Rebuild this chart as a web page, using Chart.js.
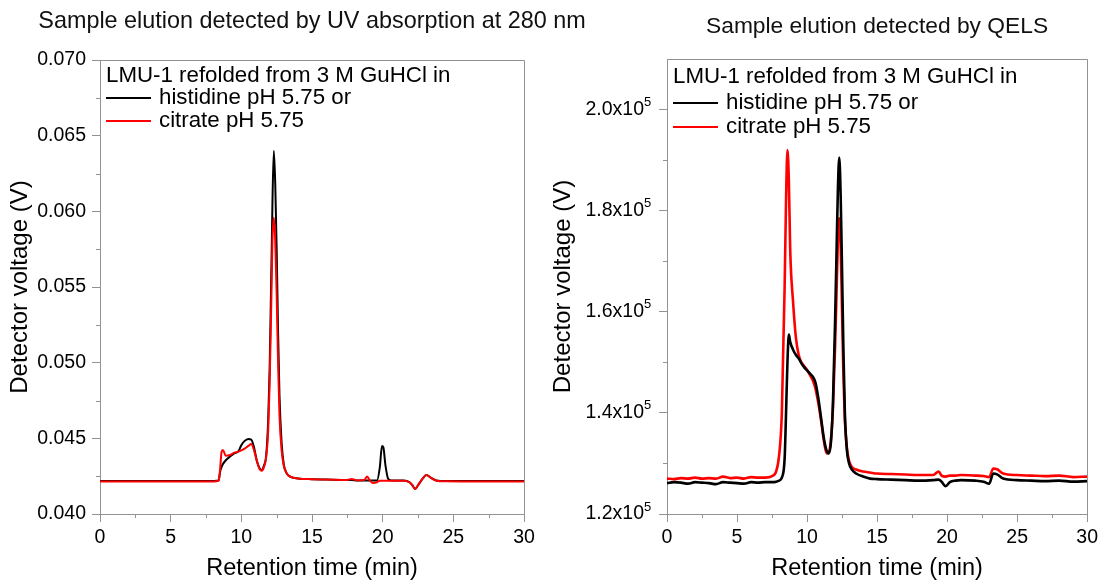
<!DOCTYPE html>
<html>
<head>
<meta charset="utf-8">
<title>Sample elution</title>
<script src="https://cdn.jsdelivr.net/npm/chart.js@4.4.1/dist/chart.umd.min.js"></script>
<style>
  body { margin: 0; background: #fff; width: 1102px; height: 583px; overflow: hidden; position: relative; }
  .box { position: absolute; top: 0; height: 583px; }
  #uvBox { left: 0; width: 620px; }
  #qelsBox { left: 540px; width: 562px; }
</style>
</head>
<body>
<div class="box" id="uvBox"><canvas id="uv"></canvas></div>
<div class="box" id="qelsBox"><canvas id="qels"></canvas></div>
<script>
// ---- data ----
const seriesLabels = ['histidine pH 5.75 or', 'citrate pH 5.75'];
const seriesColors = ['#000000', '#ff0000'];
const legendTitle = 'LMU-1 refolded from 3 M GuHCl in';

// UV 280 nm, detector voltage (V) vs retention time (min)
const uvTime = [0, 2, 4, 6, 8, 8.2, 8.4, 8.5, 8.6, 8.7, 8.9, 9.2, 9.5, 9.8, 10.0, 10.2, 10.5, 10.7, 10.9, 11.1, 11.3, 11.45,
  11.6, 11.75, 11.9, 12.0, 12.1, 12.15, 12.2, 12.3, 12.4, 12.5, 12.6, 12.7, 12.85, 13.0, 13.2, 13.5, 14, 15, 16, 17.5, 17.8,
  18.2, 18.7, 18.9, 19.1, 19.3, 19.6, 19.8, 19.95, 20.05, 20.2, 20.4, 20.6, 21, 21.5, 21.9, 22.1, 22.3, 22.5, 22.8, 23.1,
  23.4, 23.8, 24.5, 26, 28, 30];
const uvHistidine = [0.04218, 0.04218, 0.04218, 0.04218, 0.04218, 0.04219, 0.04225, 0.0428, 0.0431, 0.0433, 0.04355, 0.0438, 0.0440, 0.04415, 0.04455, 0.0448, 0.04495, 0.04492, 0.0444, 0.0435, 0.0430, 0.0429,
  0.0432, 0.0438, 0.0462, 0.0495, 0.0548, 0.0575, 0.0605, 0.0640, 0.0618, 0.0575, 0.0520, 0.0478, 0.0447, 0.0433, 0.0427, 0.04245, 0.04235, 0.0423, 0.04228, 0.04225, 0.04225,
  0.04222, 0.04222, 0.04222, 0.04222, 0.04222, 0.04222, 0.0431, 0.0445, 0.0444, 0.0432, 0.0423, 0.04222, 0.04222, 0.04222, 0.0421, 0.0419, 0.04165, 0.0419, 0.0423, 0.04258,
  0.0424, 0.04222, 0.04218, 0.04218, 0.04218, 0.04218];
const uvCitrate = [0.04215, 0.04215, 0.04215, 0.04215, 0.04215, 0.04216, 0.0422, 0.0430, 0.0441, 0.04423, 0.04385, 0.0439, 0.04405, 0.04412, 0.0442, 0.0443, 0.0445, 0.04462, 0.0442, 0.0435, 0.04295, 0.04286,
  0.0431, 0.0437, 0.0455, 0.0485, 0.0530, 0.0555, 0.0580, 0.0596, 0.0580, 0.0545, 0.0500, 0.0465, 0.0442, 0.0432, 0.0427, 0.04245, 0.04235, 0.0423, 0.04228, 0.04225, 0.04232,
  0.04222, 0.04225, 0.04248, 0.0422, 0.04205, 0.0421, 0.0422, 0.0422, 0.0422, 0.0422, 0.0422, 0.0422, 0.0422, 0.0422, 0.0421, 0.0419, 0.04165, 0.0419, 0.0423, 0.04258,
  0.0424, 0.0422, 0.04216, 0.04215, 0.04215, 0.04215];

// QELS, detector voltage (V) vs retention time (min)
const qelsTime = [0, 0.5, 1, 1.5, 2, 2.5, 3, 3.5, 4, 4.5, 5, 5.5, 6, 6.5, 7, 7.5, 7.8, 8.0, 8.2, 8.4, 8.5, 8.6, 8.7, 8.8,
  9.0, 9.2, 9.4, 9.6, 9.8, 10.0, 10.2, 10.4, 10.6, 10.8, 11.0, 11.2, 11.4, 11.55, 11.7, 11.85, 12.0, 12.1, 12.2, 12.3, 12.4,
  12.5, 12.6, 12.7, 12.85, 13.0, 13.2, 13.5, 14, 14.5, 15, 16, 17, 18, 19, 19.4, 19.6, 19.9, 20.2, 20.6, 21, 22, 22.6, 23.0,
  23.3, 23.6, 24, 25, 26, 27, 28, 29, 30];
const qelsHistidine = [126100, 126300, 126200, 126000, 126300, 126200, 126100, 125900, 126300, 126200, 126100, 126000, 126300, 126200, 126300, 126300, 126400, 126600, 127200, 131000, 140000, 150000, 155500, 154000,
  152500, 151500, 150800, 149800, 149000, 148400, 147800, 147200, 146000, 143000, 139000, 135000, 132500, 132000, 134000, 142000, 158000, 171000, 184000, 190500, 183000,
  168000, 152000, 140000, 132500, 130000, 128800, 128000, 127400, 127000, 126900, 126800, 126700, 126600, 126700, 126800, 126400, 125500, 126300, 126600, 126700, 126600, 126400, 126000,
  128000, 127800, 127000, 126700, 126600, 126500, 126600, 126400, 126500];
const qelsCitrate = [127000, 126900, 127100, 127000, 127200, 127000, 127100, 127000, 127400, 127100, 127200, 127000, 127300, 127200, 127200, 127500, 128500, 131500, 140000, 165000, 182000, 192000, 186000, 172000,
  162000, 155000, 151500, 150000, 149200, 148500, 147500, 146500, 144800, 142000, 138500, 134500, 132000, 132200, 134500, 141000, 153000, 163000, 174000, 178500, 173000,
  160000, 147000, 138500, 133000, 130500, 129300, 128800, 128400, 128200, 128000, 127900, 127800, 127700, 127700, 128400, 127600, 127400, 127600, 127600, 127700, 127600, 127500, 127300,
  129000, 128800, 128000, 127700, 127600, 127500, 127600, 127300, 127400];

// axis ticks
const timeTicks = [0, 5, 10, 15, 20, 25, 30];
const timeMinor = [2.5, 7.5, 12.5, 17.5, 22.5, 27.5];
const uvTicks = [0.040, 0.045, 0.050, 0.055, 0.060, 0.065, 0.070];
const uvMinor = [0.0425, 0.0475, 0.0525, 0.0575, 0.0625, 0.0675];
const qelsTicks = [120000, 140000, 160000, 180000, 200000];
const qelsMinor = [130000, 150000, 170000, 190000];

const FONT = "'Liberation Sans', Arial, sans-serif";
const axisGray = '#939393';
Chart.defaults.font.family = FONT;
Chart.defaults.color = '#000';

function toPoints(xs, ys) {
  return xs.map((x, i) => ({ x: x, y: ys[i] }));
}

// title, box around the plot, minor ticks, exponent and the in-plot legend
const framePlugin = {
  id: 'frame',
  afterDraw(chart, args, opts) {
    const ctx = chart.ctx;
    const a = chart.chartArea;
    const xs = chart.scales.x, ys = chart.scales.y;
    ctx.save();
    ctx.strokeStyle = axisGray;
    ctx.lineWidth = 1;
    ctx.beginPath();
    ctx.moveTo(Math.round(a.left), Math.round(a.top) + 0.5);
    ctx.lineTo(Math.round(a.right) + 0.5, Math.round(a.top) + 0.5);
    ctx.lineTo(Math.round(a.right) + 0.5, Math.round(a.bottom));
    opts.xMinor.forEach(v => {
      const px = Math.round(xs.getPixelForValue(v)) + 0.5;
      ctx.moveTo(px, a.bottom);
      ctx.lineTo(px, a.bottom + 4);
    });
    opts.yMinor.forEach(v => {
      const py = Math.round(ys.getPixelForValue(v)) + 0.5;
      ctx.moveTo(a.left - 4, py);
      ctx.lineTo(a.left, py);
    });
    ctx.stroke();

    ctx.fillStyle = '#000';
    ctx.textBaseline = 'middle';

    // exponent after the "x10" tick labels
    if (opts.exponent) {
      ctx.font = '13px ' + FONT;
      ctx.textAlign = 'left';
      ys.ticks.forEach(t => {
        ctx.fillText(opts.exponent, a.left - 23, ys.getPixelForValue(t.value) - 7);
      });
    }

    // title over the plot
    ctx.font = opts.titleSize + 'px ' + FONT;
    ctx.textAlign = 'center';
    ctx.fillStyle = '#111';
    ctx.fillText(opts.title, (a.left + a.right) / 2, opts.titleY);

    // legend
    ctx.font = '22.3px ' + FONT;
    ctx.textAlign = 'left';
    ctx.fillStyle = '#000';
    const lx = a.left + 6;
    ctx.fillText(legendTitle, lx, opts.rows[0]);
    chart.data.datasets.forEach((ds, i) => {
      const y = opts.rows[i + 1];
      ctx.strokeStyle = ds.borderColor;
      ctx.lineWidth = 2;
      ctx.beginPath();
      ctx.moveTo(lx, y);
      ctx.lineTo(lx + 45, y);
      ctx.stroke();
      ctx.fillText(ds.label, lx + 53, y);
    });
    ctx.restore();
  }
};

function makeChart(id, cfg) {
  return new Chart(document.getElementById(id), {
    type: 'line',
    data: {
      datasets: cfg.series.map((s, i) => ({
        label: seriesLabels[i],
        data: toPoints(cfg.time, s),
        borderColor: seriesColors[i],
        borderWidth: cfg.lineWidth,
        pointRadius: 0,
        cubicInterpolationMode: 'monotone',
        fill: false,
        order: cfg.order[i]
      }))
    },
    options: {
      responsive: true,
      maintainAspectRatio: false,
      animation: false,
      events: [],
      layout: { padding: { top: cfg.padTop, left: 0, right: cfg.padRight, bottom: 0 } },
      plugins: {
        legend: { display: false },
        tooltip: { enabled: false },
        frame: {
          xMinor: timeMinor, yMinor: cfg.yMinor, rows: cfg.legendRows,
          title: cfg.title, titleY: cfg.titleY, titleSize: cfg.titleSize, exponent: cfg.exponent
        }
      },
      scales: {
        x: {
          type: 'linear',
          min: 0,
          max: 30,
          afterBuildTicks: s => { s.ticks = timeTicks.map(v => ({ value: v })); },
          afterFit: s => { s.height = 69; },
          ticks: { font: { size: 19.5 }, padding: 4, maxRotation: 0, autoSkip: false },
          grid: { drawOnChartArea: false, tickLength: 8, color: axisGray },
          border: { color: axisGray },
          title: { display: true, text: 'Retention time (min)', font: { size: 23.5 }, padding: { top: 0, bottom: 0 } }
        },
        y: {
          type: 'linear',
          min: cfg.yMin,
          max: cfg.yMax,
          afterBuildTicks: s => { s.ticks = cfg.yTicks.map(v => ({ value: v })); },
          afterFit: s => { s.width = cfg.yWidth; },
          ticks: { font: { size: 19.5 }, padding: cfg.yTickPad, autoSkip: false, callback: cfg.yFormat },
          grid: { drawOnChartArea: false, tickLength: 8, color: axisGray },
          border: { color: axisGray },
          title: { display: true, text: 'Detector voltage (V)', font: { size: 24 }, padding: { top: cfg.yTitlePad, bottom: 0 } }
        }
      }
    },
    plugins: [framePlugin]
  });
}

makeChart('uv', {
  title: 'Sample elution detected by UV absorption at 280 nm',
  titleY: 22,
  titleSize: 23.4,
  time: uvTime,
  series: [uvHistidine, uvCitrate],
  order: [1, 0],
  lineWidth: 2,
  yMin: 0.040, yMax: 0.070,
  yTicks: uvTicks, yMinor: uvMinor,
  yFormat: v => v.toFixed(3),
  yTickPad: 6,
  yWidth: 100, padRight: 96, padTop: 60,
  yTitlePad: 6,
  legendRows: [76, 98, 121]
});

makeChart('qels', {
  title: 'Sample elution detected by QELS',
  titleY: 27,
  titleSize: 22.8,
  time: qelsTime,
  series: [qelsHistidine, qelsCitrate],
  order: [0, 1],
  lineWidth: 2.6,
  yMin: 120000, yMax: 210000,
  yTicks: qelsTicks, yMinor: qelsMinor,
  yFormat: v => (v / 1e5).toFixed(1) + 'x10',
  exponent: '5',
  yTickPad: 15,
  yWidth: 127, padRight: 12, padTop: 59,
  yTitlePad: 9,
  legendRows: [77, 103, 127]
});
</script>
</body>
</html>
